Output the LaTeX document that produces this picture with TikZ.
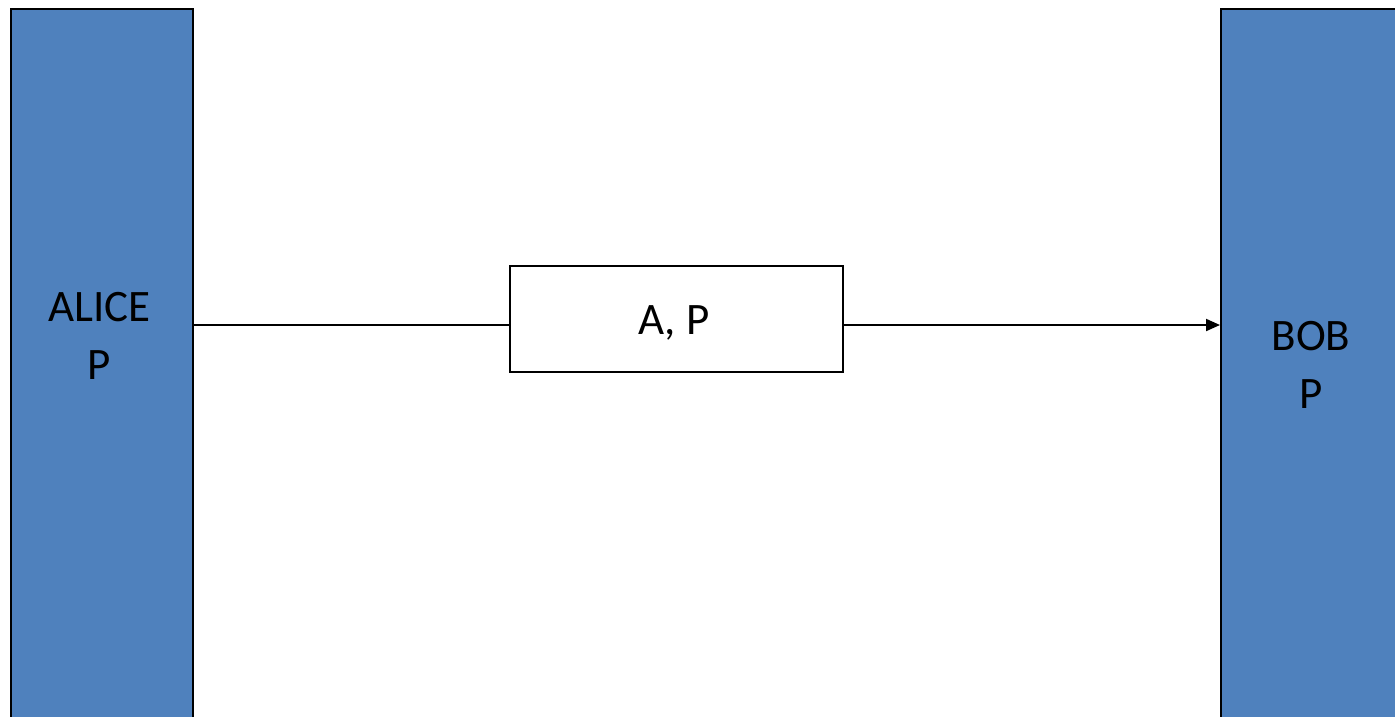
\documentclass[tikz,border=0pt]{standalone}
\usepackage{fontspec}
\setmainfont{Carlito}
\usetikzlibrary{arrows.meta}
\definecolor{barblue}{HTML}{4F81BD}
\tikzset{
  bar/.style={draw=black, line width=2pt, fill=barblue, rectangle, inner sep=0pt, anchor=north west},
  msgbox/.style={draw=black, line width=2pt, fill=white, rectangle, inner sep=0pt, anchor=north west},
  lbl/.style={font=\fontsize{45}{57.6}\selectfont, anchor=base, inner sep=0pt, text=black},
  conn/.style={line width=2pt, draw=black},
}
\begin{document}
\begin{tikzpicture}[x=1pt,y=-1pt]
\useasboundingbox (0,0) rectangle (1395,716);
\begin{scope}
\clip (0,0) rectangle (1395,716);
\node[bar, minimum width=182pt, minimum height=760pt] (alice) at (10,8) {};
\node[bar, minimum width=184pt, minimum height=760pt] (bob) at (1220,8) {};
\end{scope}
\node[msgbox, minimum width=333pt, minimum height=106pt] (box) at (509,265) {};
\node[lbl] (alicet1) at (99.5,321.7) {ALICE};
\node[lbl] (alicet2) at (99.5,379.3) {P};
\node[lbl] (bobt1) at (1311,350.7) {BOB};
\node[lbl] (bobt2) at (1311,408.3) {P};
\node[lbl] (boxt) at (674,334.3) {A, P};
\coordinate (lvl) at (0,325);
\draw[conn] (alice.east |- lvl) -- (box.west |- lvl);
\draw[conn, -{Triangle[length=14pt,width=12pt]}] (box.east |- lvl) -- (bob.west |- lvl);
\end{tikzpicture}
\end{document}
